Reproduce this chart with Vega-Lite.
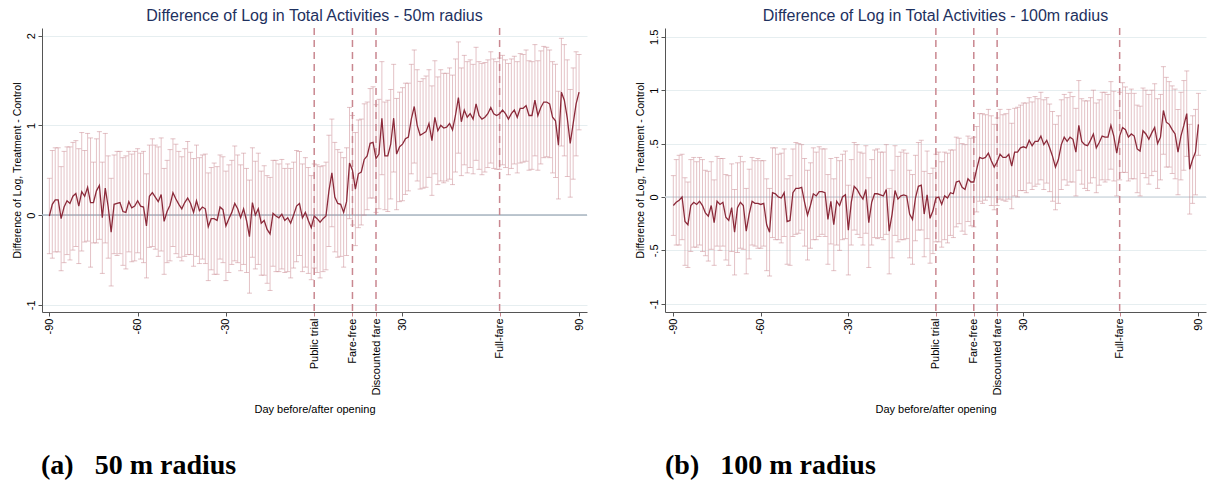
{
"$schema": "https://vega.github.io/schema/vega-lite/v6.json",
"padding": {"left": 12, "top": 8, "right": 2, "bottom": 5},
"background": "white",
"config": {"view": {"stroke": null}, "font": "Liberation Sans",
  "axis": {"labelFont": "Liberation Sans", "titleFont": "Liberation Sans", "labelFontSize": 11, "titleFontSize": 11, "titleFontWeight": "normal", "labelColor": "#000", "titleColor": "#000", "domainColor": "#555", "tickColor": "#555", "tickSize": 4, "labelPadding": 2}},
"datasets": {
"L": [
{"d":-90,"e":-0.01,"s":0.42},{"d":-89,"e":0.12,"s":0.60},{"d":-88,"e":0.17,"s":0.58},{"d":-87,"e":0.17,"s":0.58},{"d":-86,"e":-0.04,"s":0.58},{"d":-85,"e":0.09,"s":0.62},{"d":-84,"e":0.16,"s":0.60},{"d":-83,"e":0.13,"s":0.63},{"d":-82,"e":0.21,"s":0.60},{"d":-81,"e":0.24,"s":0.59},
{"d":-80,"e":0.10,"s":0.64},{"d":-79,"e":0.26,"s":0.66},{"d":-78,"e":0.21,"s":0.51},{"d":-77,"e":0.31,"s":0.60},{"d":-76,"e":0.14,"s":0.72},{"d":-75,"e":0.14,"s":0.45},{"d":-74,"e":0.27,"s":0.58},{"d":-73,"e":0.33,"s":0.60},{"d":-72,"e":-0.03,"s":0.62},{"d":-71,"e":0.30,"s":0.61},
{"d":-70,"e":0.09,"s":0.57},{"d":-69,"e":-0.19,"s":0.60},{"d":-68,"e":0.12,"s":0.55},{"d":-67,"e":0.13,"s":0.58},{"d":-66,"e":0.14,"s":0.57},{"d":-65,"e":0.04,"s":0.60},{"d":-64,"e":0.03,"s":0.63},{"d":-63,"e":0.15,"s":0.56},{"d":-62,"e":0.08,"s":0.60},{"d":-61,"e":0.10,"s":0.61},
{"d":-60,"e":0.16,"s":0.58},{"d":-59,"e":0.10,"s":0.59},{"d":-58,"e":0.09,"s":0.62},{"d":-57,"e":-0.12,"s":0.58},{"d":-56,"e":0.21,"s":0.57},{"d":-55,"e":0.25,"s":0.60},{"d":-54,"e":0.20,"s":0.58},{"d":-53,"e":0.15,"s":0.61},{"d":-52,"e":0.23,"s":0.63},{"d":-51,"e":-0.07,"s":0.59},
{"d":-50,"e":0.04,"s":0.57},{"d":-49,"e":0.11,"s":0.62},{"d":-48,"e":0.25,"s":0.60},{"d":-47,"e":0.18,"s":0.61},{"d":-46,"e":0.12,"s":0.59},{"d":-45,"e":0.07,"s":0.58},{"d":-44,"e":0.14,"s":0.60},{"d":-43,"e":0.19,"s":0.63},{"d":-42,"e":0.13,"s":0.57},{"d":-41,"e":0.03,"s":0.60},
{"d":-40,"e":0.16,"s":0.62},{"d":-39,"e":0.05,"s":0.59},{"d":-38,"e":0.09,"s":0.58},{"d":-37,"e":0.07,"s":0.61},{"d":-36,"e":-0.13,"s":0.60},{"d":-35,"e":-0.04,"s":0.57},{"d":-34,"e":-0.04,"s":0.62},{"d":-33,"e":-0.06,"s":0.60},{"d":-32,"e":0.09,"s":0.58},{"d":-31,"e":0.06,"s":0.59},
{"d":-30,"e":-0.12,"s":0.61},{"d":-29,"e":-0.04,"s":0.60},{"d":-28,"e":0.03,"s":0.58},{"d":-27,"e":0.13,"s":0.64},{"d":-26,"e":0.07,"s":0.60},{"d":-25,"e":-0.03,"s":0.59},{"d":-24,"e":0.07,"s":0.62},{"d":-23,"e":-0.06,"s":0.58},{"d":-22,"e":-0.24,"s":0.63},{"d":-21,"e":0.14,"s":0.61},
{"d":-20,"e":0.00,"s":0.60},{"d":-19,"e":0.07,"s":0.62},{"d":-18,"e":-0.09,"s":0.58},{"d":-17,"e":-0.06,"s":0.61},{"d":-16,"e":-0.16,"s":0.60},{"d":-15,"e":-0.21,"s":0.63},{"d":-14,"e":0.02,"s":0.59},{"d":-13,"e":-0.01,"s":0.62},{"d":-12,"e":-0.03,"s":0.60},{"d":-11,"e":0.01,"s":0.61},
{"d":-10,"e":-0.06,"s":0.58},{"d":-9,"e":-0.03,"s":0.60},{"d":-8,"e":-0.09,"s":0.61},{"d":-7,"e":0.00,"s":0.59},{"d":-6,"e":0.10,"s":0.62},{"d":-5,"e":0.13,"s":0.58},{"d":-4,"e":-0.03,"s":0.60},{"d":-3,"e":0.03,"s":0.61},{"d":-2,"e":-0.06,"s":0.59},{"d":-1,"e":-0.14,"s":0.58},
{"d":0,"e":-0.01,"s":0.58},{"d":1,"e":-0.04,"s":0.60},{"d":2,"e":-0.08,"s":0.62},{"d":3,"e":-0.04,"s":0.59},{"d":4,"e":-0.01,"s":0.60},{"d":5,"e":0.27,"s":0.62},{"d":6,"e":0.47,"s":0.60},{"d":7,"e":0.20,"s":0.61},{"d":8,"e":0.13,"s":0.60},{"d":9,"e":0.12,"s":0.58},
{"d":10,"e":0.03,"s":0.61},{"d":11,"e":0.15,"s":0.60},{"d":12,"e":0.58,"s":0.62},{"d":13,"e":0.50,"s":0.61},{"d":14,"e":0.29,"s":0.63},{"d":15,"e":0.46,"s":0.60},{"d":16,"e":0.48,"s":0.59},{"d":17,"e":0.62,"s":0.62},{"d":18,"e":0.66,"s":0.60},{"d":19,"e":0.80,"s":0.61},
{"d":20,"e":0.81,"s":0.62},{"d":21,"e":0.63,"s":0.60},{"d":22,"e":0.68,"s":0.61},{"d":23,"e":1.08,"s":0.63},{"d":24,"e":0.66,"s":0.60},{"d":25,"e":0.66,"s":0.62},{"d":26,"e":0.79,"s":0.61},{"d":27,"e":1.08,"s":0.60},{"d":28,"e":0.68,"s":0.62},{"d":29,"e":0.76,"s":0.61},
{"d":30,"e":0.79,"s":0.63},{"d":31,"e":0.85,"s":0.62},{"d":32,"e":0.87,"s":0.60},{"d":33,"e":1.07,"s":0.61},{"d":34,"e":1.21,"s":0.63},{"d":35,"e":1.00,"s":0.62},{"d":36,"e":0.89,"s":0.60},{"d":37,"e":0.91,"s":0.61},{"d":38,"e":0.93,"s":0.62},{"d":39,"e":1.02,"s":0.60},
{"d":40,"e":0.83,"s":0.61},{"d":41,"e":1.09,"s":0.63},{"d":42,"e":0.94,"s":0.60},{"d":43,"e":1.00,"s":0.62},{"d":44,"e":0.97,"s":0.61},{"d":45,"e":0.98,"s":0.60},{"d":46,"e":1.02,"s":0.62},{"d":47,"e":0.95,"s":0.61},{"d":48,"e":1.11,"s":0.63},{"d":49,"e":1.31,"s":0.62},
{"d":50,"e":1.04,"s":0.60},{"d":51,"e":1.17,"s":0.61},{"d":52,"e":1.09,"s":0.62},{"d":53,"e":1.13,"s":0.60},{"d":54,"e":1.07,"s":0.61},{"d":55,"e":1.24,"s":0.63},{"d":56,"e":1.11,"s":0.60},{"d":57,"e":1.07,"s":0.62},{"d":58,"e":1.09,"s":0.61},{"d":59,"e":1.13,"s":0.60},
{"d":60,"e":1.20,"s":0.62},{"d":61,"e":1.13,"s":0.61},{"d":62,"e":1.11,"s":0.60},{"d":63,"e":1.13,"s":0.62},{"d":64,"e":1.17,"s":0.61},{"d":65,"e":1.13,"s":0.60},{"d":66,"e":1.07,"s":0.62},{"d":67,"e":1.13,"s":0.61},{"d":68,"e":1.17,"s":0.60},{"d":69,"e":1.09,"s":0.62},
{"d":70,"e":1.19,"s":0.61},{"d":71,"e":1.19,"s":0.60},{"d":72,"e":1.22,"s":0.62},{"d":73,"e":1.11,"s":0.61},{"d":74,"e":1.11,"s":0.60},{"d":75,"e":1.28,"s":0.62},{"d":76,"e":1.11,"s":0.61},{"d":77,"e":1.20,"s":0.63},{"d":78,"e":1.26,"s":0.62},{"d":79,"e":1.26,"s":0.61},
{"d":80,"e":1.24,"s":0.60},{"d":81,"e":1.09,"s":0.62},{"d":82,"e":1.05,"s":0.63},{"d":83,"e":0.78,"s":0.60},{"d":84,"e":1.37,"s":0.60},{"d":85,"e":1.28,"s":0.62},{"d":86,"e":1.08,"s":0.65},{"d":87,"e":0.80,"s":0.60},{"d":88,"e":1.02,"s":0.62},{"d":89,"e":1.24,"s":0.58},{"d":90,"e":1.37,"s":0.42}
],
"R": [
{"d":-90,"e":-0.08,"s":0.28},{"d":-89,"e":-0.05,"s":0.40},{"d":-88,"e":-0.03,"s":0.42},{"d":-87,"e":0.00,"s":0.40},{"d":-86,"e":-0.23,"s":0.41},{"d":-85,"e":-0.26,"s":0.40},{"d":-84,"e":-0.08,"s":0.43},{"d":-83,"e":-0.05,"s":0.42},{"d":-82,"e":-0.07,"s":0.40},{"d":-81,"e":-0.04,"s":0.41},
{"d":-80,"e":-0.08,"s":0.43},{"d":-79,"e":-0.15,"s":0.40},{"d":-78,"e":-0.18,"s":0.42},{"d":-77,"e":-0.08,"s":0.41},{"d":-76,"e":-0.24,"s":0.40},{"d":-75,"e":-0.04,"s":0.42},{"d":-74,"e":-0.07,"s":0.43},{"d":-73,"e":-0.05,"s":0.41},{"d":-72,"e":-0.19,"s":0.40},{"d":-71,"e":-0.22,"s":0.42},
{"d":-70,"e":-0.10,"s":0.41},{"d":-69,"e":-0.33,"s":0.40},{"d":-68,"e":-0.10,"s":0.42},{"d":-67,"e":-0.05,"s":0.43},{"d":-66,"e":-0.08,"s":0.41},{"d":-65,"e":-0.32,"s":0.40},{"d":-64,"e":-0.16,"s":0.42},{"d":-63,"e":-0.04,"s":0.41},{"d":-62,"e":-0.06,"s":0.40},{"d":-61,"e":-0.06,"s":0.42},
{"d":-60,"e":-0.07,"s":0.41},{"d":-59,"e":-0.06,"s":0.40},{"d":-58,"e":-0.26,"s":0.43},{"d":-57,"e":-0.33,"s":0.41},{"d":-56,"e":0.04,"s":0.42},{"d":-55,"e":0.03,"s":0.43},{"d":-54,"e":0.00,"s":0.40},{"d":-53,"e":-0.01,"s":0.42},{"d":-52,"e":0.04,"s":0.41},{"d":-51,"e":-0.23,"s":0.40},
{"d":-50,"e":-0.22,"s":0.42},{"d":-49,"e":0.04,"s":0.41},{"d":-48,"e":0.08,"s":0.43},{"d":-47,"e":0.08,"s":0.42},{"d":-46,"e":0.09,"s":0.40},{"d":-45,"e":-0.05,"s":0.41},{"d":-44,"e":-0.17,"s":0.42},{"d":-43,"e":-0.08,"s":0.40},{"d":-42,"e":0.03,"s":0.43},{"d":-41,"e":0.01,"s":0.41},
{"d":-40,"e":0.05,"s":0.42},{"d":-39,"e":0.05,"s":0.40},{"d":-38,"e":0.04,"s":0.41},{"d":-37,"e":-0.21,"s":0.42},{"d":-36,"e":-0.04,"s":0.40},{"d":-35,"e":-0.26,"s":0.43},{"d":-34,"e":-0.04,"s":0.41},{"d":-33,"e":-0.08,"s":0.42},{"d":-32,"e":0.00,"s":0.40},{"d":-31,"e":0.02,"s":0.41},
{"d":-30,"e":-0.31,"s":0.42},{"d":-29,"e":-0.05,"s":0.40},{"d":-28,"e":0.10,"s":0.41},{"d":-27,"e":0.07,"s":0.42},{"d":-26,"e":0.02,"s":0.40},{"d":-25,"e":-0.02,"s":0.43},{"d":-24,"e":0.07,"s":0.41},{"d":-23,"e":-0.24,"s":0.42},{"d":-22,"e":-0.05,"s":0.40},{"d":-21,"e":0.03,"s":0.41},
{"d":-20,"e":0.03,"s":0.42},{"d":-19,"e":0.02,"s":0.40},{"d":-18,"e":0.01,"s":0.41},{"d":-17,"e":0.07,"s":0.42},{"d":-16,"e":-0.32,"s":0.40},{"d":-15,"e":-0.16,"s":0.41},{"d":-14,"e":0.06,"s":0.42},{"d":-13,"e":-0.02,"s":0.40},{"d":-12,"e":0.01,"s":0.41},{"d":-11,"e":0.02,"s":0.42},
{"d":-10,"e":0.01,"s":0.40},{"d":-9,"e":-0.16,"s":0.41},{"d":-8,"e":-0.21,"s":0.42},{"d":-7,"e":-0.01,"s":0.40},{"d":-6,"e":0.10,"s":0.41},{"d":-5,"e":0.11,"s":0.42},{"d":-4,"e":-0.16,"s":0.40},{"d":-3,"e":0.02,"s":0.41},{"d":-2,"e":-0.20,"s":0.42},{"d":-1,"e":-0.13,"s":0.40},
{"d":0,"e":-0.01,"s":0.41},{"d":1,"e":0.00,"s":0.42},{"d":2,"e":-0.07,"s":0.40},{"d":3,"e":0.01,"s":0.41},{"d":4,"e":-0.01,"s":0.42},{"d":5,"e":0.04,"s":0.40},{"d":6,"e":0.03,"s":0.41},{"d":7,"e":0.14,"s":0.42},{"d":8,"e":0.15,"s":0.40},{"d":9,"e":0.09,"s":0.41},
{"d":10,"e":0.07,"s":0.42},{"d":11,"e":0.17,"s":0.40},{"d":12,"e":0.14,"s":0.41},{"d":13,"e":0.14,"s":0.42},{"d":14,"e":0.26,"s":0.40},{"d":15,"e":0.37,"s":0.41},{"d":16,"e":0.36,"s":0.42},{"d":17,"e":0.37,"s":0.40},{"d":18,"e":0.41,"s":0.41},{"d":19,"e":0.34,"s":0.42},
{"d":20,"e":0.28,"s":0.40},{"d":21,"e":0.33,"s":0.41},{"d":22,"e":0.40,"s":0.42},{"d":23,"e":0.37,"s":0.40},{"d":24,"e":0.37,"s":0.41},{"d":25,"e":0.40,"s":0.42},{"d":26,"e":0.29,"s":0.40},{"d":27,"e":0.42,"s":0.41},{"d":28,"e":0.42,"s":0.42},{"d":29,"e":0.46,"s":0.40},
{"d":30,"e":0.47,"s":0.41},{"d":31,"e":0.46,"s":0.42},{"d":32,"e":0.53,"s":0.40},{"d":33,"e":0.48,"s":0.41},{"d":34,"e":0.52,"s":0.42},{"d":35,"e":0.52,"s":0.40},{"d":36,"e":0.57,"s":0.41},{"d":37,"e":0.49,"s":0.42},{"d":38,"e":0.53,"s":0.40},{"d":39,"e":0.46,"s":0.41},
{"d":40,"e":0.38,"s":0.42},{"d":41,"e":0.28,"s":0.40},{"d":42,"e":0.35,"s":0.41},{"d":43,"e":0.49,"s":0.42},{"d":44,"e":0.56,"s":0.40},{"d":45,"e":0.52,"s":0.41},{"d":46,"e":0.56,"s":0.42},{"d":47,"e":0.54,"s":0.40},{"d":48,"e":0.42,"s":0.41},{"d":49,"e":0.67,"s":0.42},
{"d":50,"e":0.52,"s":0.40},{"d":51,"e":0.49,"s":0.41},{"d":52,"e":0.48,"s":0.42},{"d":53,"e":0.53,"s":0.40},{"d":54,"e":0.59,"s":0.41},{"d":55,"e":0.46,"s":0.42},{"d":56,"e":0.51,"s":0.40},{"d":57,"e":0.57,"s":0.41},{"d":58,"e":0.56,"s":0.42},{"d":59,"e":0.56,"s":0.40},
{"d":60,"e":0.67,"s":0.41},{"d":61,"e":0.57,"s":0.42},{"d":62,"e":0.41,"s":0.40},{"d":63,"e":0.57,"s":0.41},{"d":64,"e":0.65,"s":0.42},{"d":65,"e":0.63,"s":0.40},{"d":66,"e":0.56,"s":0.41},{"d":67,"e":0.59,"s":0.42},{"d":68,"e":0.57,"s":0.40},{"d":69,"e":0.45,"s":0.41},
{"d":70,"e":0.43,"s":0.42},{"d":71,"e":0.62,"s":0.40},{"d":72,"e":0.59,"s":0.41},{"d":73,"e":0.54,"s":0.42},{"d":74,"e":0.60,"s":0.40},{"d":75,"e":0.65,"s":0.41},{"d":76,"e":0.50,"s":0.42},{"d":77,"e":0.56,"s":0.40},{"d":78,"e":0.81,"s":0.41},{"d":79,"e":0.70,"s":0.42},
{"d":80,"e":0.68,"s":0.40},{"d":81,"e":0.63,"s":0.41},{"d":82,"e":0.59,"s":0.42},{"d":83,"e":0.42,"s":0.40},{"d":84,"e":0.57,"s":0.41},{"d":85,"e":0.67,"s":0.42},{"d":86,"e":0.78,"s":0.40},{"d":87,"e":0.26,"s":0.42},{"d":88,"e":0.35,"s":0.41},{"d":89,"e":0.42,"s":0.40},{"d":90,"e":0.68,"s":0.29}
],
"EV": [{"d":0,"name":"Public trial"},{"d":13,"name":"Fare-free"},{"d":21,"name":"Discounted fare"},{"d":63,"name":"Full-fare"}]
},
"spacing": 46,
"hconcat": [
{
 "title": {"text": "(a)\u00a0\u00a0 50 m radius", "orient": "bottom", "anchor": "start", "font": "Liberation Serif", "fontSize": 28, "fontWeight": "bold", "color": "#000", "offset": 38, "dx": 29},
 "vconcat": [
 {
  "width": 545, "height": 284,
  "title": {"text": "Difference of Log in Total Activities - 50m radius", "fontSize": 16, "fontWeight": "normal", "color": "#1e3160", "font": "Liberation Sans", "offset": 3},
  "layer": [
   {"data": {"values": [{}]}, "mark": {"type": "rule", "color": "#a8b5c1", "strokeWidth": 1.5}, "encoding": {"y": {"datum": 0, "type": "quantitative"}}},
   {"data": {"name": "L"},
    "mark": {"type": "errorbar", "ticks": {"size": 5}, "color": "#c98790", "opacity": 0.5, "thickness": 1},
    "encoding": {
     "x": {"field": "d", "type": "quantitative", "scale": {"domain": [-92.5, 92.7], "nice": false, "zero": false},
       "axis": {"title": "Day before/after opening", "values": [-90, -60, -30, 0, 13, 21, 30, 63, 90], "labelAngle": -90, "grid": false, "labelOverlap": false, "labelFlush": false, "titlePadding": 8,
         "labelExpr": "datum.value==0?'Public trial':datum.value==13?'Fare-free':datum.value==21?'Discounted fare':datum.value==63?'Full-fare':datum.value==-90?'-90':datum.value==-60?'-60':datum.value==-30?'-30':datum.label",
         "tickColor": {"condition": {"test": "indexof([0,13,21,63], datum.value) >= 0", "value": "#c98790"}, "value": "#555"}}},
     "y": {"field": "e", "type": "quantitative", "scale": {"domain": [-1.08, 2.085], "nice": false, "zero": false},
       "axis": {"title": "Difference of Log, Treatment - Control", "titleFontSize": 10.5, "values": [-1, 0, 1, 2], "labelAngle": -90, "grid": true, "gridColor": "#e6eef0", "titlePadding": 3,
         "labelExpr": "datum.value==-1?'-1':datum.value==0?'0':datum.value==1?'1':'2'"}},
     "yError": {"field": "s"}
    }},
   {"data": {"name": "EV"}, "mark": {"type": "rule", "color": "#c98790", "strokeDash": [7, 5], "strokeWidth": 1.5},
    "encoding": {"x": {"field": "d", "type": "quantitative", "axis": {"title": "Day before/after opening"}}}},
   {"data": {"name": "L"}, "mark": {"type": "line", "color": "#8c2a3a", "strokeWidth": 1.3},
    "encoding": {"x": {"field": "d", "type": "quantitative", "axis": {"title": "Day before/after opening"}},
                 "y": {"field": "e", "type": "quantitative", "axis": {"title": "Difference of Log, Treatment - Control"}}}}
  ]
 }
 ]
},
{
 "title": {"text": "(b)\u00a0\u00a0 100 m radius", "orient": "bottom", "anchor": "start", "font": "Liberation Serif", "fontSize": 28, "fontWeight": "bold", "color": "#000", "offset": 38, "dx": 30},
 "vconcat": [
 {
  "width": 541, "height": 284,
  "title": {"text": "Difference of Log in Total Activities - 100m radius", "fontSize": 16, "fontWeight": "normal", "color": "#1e3160", "font": "Liberation Sans", "offset": 3},
  "layer": [
   {"data": {"values": [{}]}, "mark": {"type": "rule", "color": "#d3dbe2", "strokeWidth": 1.5}, "encoding": {"y": {"datum": 0, "type": "quantitative"}}},
   {"data": {"name": "R"},
    "mark": {"type": "errorbar", "ticks": {"size": 5}, "color": "#c98790", "opacity": 0.5, "thickness": 1},
    "encoding": {
     "x": {"field": "d", "type": "quantitative", "scale": {"domain": [-92.85, 92.6], "nice": false, "zero": false},
       "axis": {"title": "Day before/after opening", "values": [-90, -60, -30, 0, 13, 21, 30, 63, 90], "labelAngle": -90, "grid": false, "labelOverlap": false, "labelFlush": false, "titlePadding": 8,
         "labelExpr": "datum.value==0?'Public trial':datum.value==13?'Fare-free':datum.value==21?'Discounted fare':datum.value==63?'Full-fare':datum.value==-90?'-90':datum.value==-60?'-60':datum.value==-30?'-30':datum.label",
         "tickColor": {"condition": {"test": "indexof([0,13,21,63], datum.value) >= 0", "value": "#c98790"}, "value": "#555"}}},
     "y": {"field": "e", "type": "quantitative", "scale": {"domain": [-1.077, 1.582], "nice": false, "zero": false},
       "axis": {"title": "Difference of Log, Treatment - Control", "titleFontSize": 10.5, "values": [-1, -0.5, 0, 0.5, 1, 1.5], "labelAngle": -90, "grid": true, "gridColor": "#e6eef0", "titlePadding": 3,
         "labelExpr": "datum.value==-1?'-1':datum.value==-0.5?'-.5':datum.value==0.5?'.5':datum.value==1.5?'1.5':datum.value==0?'0':'1'"}},
     "yError": {"field": "s"}
    }},
   {"data": {"name": "EV"}, "mark": {"type": "rule", "color": "#c98790", "strokeDash": [7, 5], "strokeWidth": 1.5},
    "encoding": {"x": {"field": "d", "type": "quantitative", "axis": {"title": "Day before/after opening"}}}},
   {"data": {"name": "R"}, "mark": {"type": "line", "color": "#8c2a3a", "strokeWidth": 1.3},
    "encoding": {"x": {"field": "d", "type": "quantitative", "axis": {"title": "Day before/after opening"}},
                 "y": {"field": "e", "type": "quantitative", "axis": {"title": "Difference of Log, Treatment - Control"}}}}
  ]
 }
 ]
}
]
}
